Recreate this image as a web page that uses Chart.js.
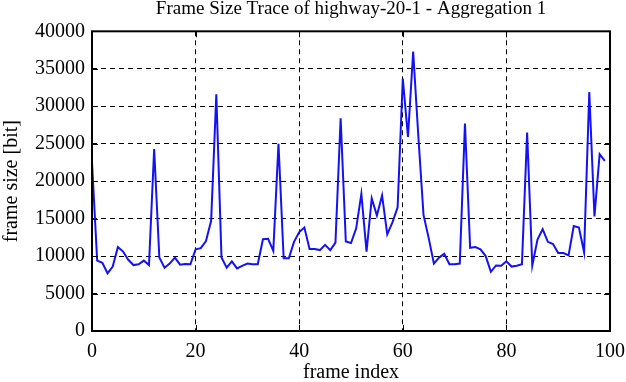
<!DOCTYPE html>
<html>
<head>
<meta charset="utf-8">
<script src="https://cdn.jsdelivr.net/npm/chart.js@4/dist/chart.umd.min.js"></script>
<style>
  html, body { margin: 0; padding: 0; background: #fff; }
  #wrap { width: 626px; height: 382px; }
</style>
</head>
<body>
<div id="wrap"><canvas id="traceChart" width="626" height="382"></canvas></div>
<script>
// frame size of each frame (bit)
var frameSize = [
  22500, 9400, 9100, 7700, 8600, 11200, 10600, 9500, 8800, 8900,
  9400, 8800, 24300, 9800, 8450, 9000, 9800, 8850, 8950, 8900,
  10900, 11050, 12000, 14700, 31600, 9800, 8450, 9300, 8350, 8700,
  9000, 8900, 8900, 12250, 12300, 10700, 25000, 9700, 9700, 11900,
  13200, 13800, 10950, 10950, 10800, 11500, 10800, 11800, 28400, 11950,
  11750, 13700, 18300, 10600, 17700, 15400, 18100, 12900, 14500, 16500,
  33700, 25900, 37300, 26000, 15500, 12400, 9000, 9800, 10300, 8900,
  8900, 9000, 27700, 11100, 11200, 10900, 10000, 7900, 8750, 8700,
  9300, 8600, 8700, 8900, 26500, 8750, 12200, 13600, 11900, 11600,
  10400, 10400, 10100, 14000, 13800, 10500, 31900, 15300, 23600, 22700
];
// frame index = position in the trace
var frameIndex = frameSize.map(function (v, i) { return i; });

var xTicks = [0, 20, 40, 60, 80, 100];
var yTicks = [0, 5000, 10000, 15000, 20000, 25000, 30000, 35000, 40000];

var points = frameIndex.map(function (x, i) { return { x: x, y: frameSize[i] }; });

var serif = "'Liberation Serif', 'DejaVu Serif', serif";

// frame on all four sides + inward tick marks
var framePlugin = {
  id: 'frame',
  afterDraw: function (chart) {
    var a = chart.chartArea, c = chart.ctx;
    var sx = chart.scales.x, sy = chart.scales.y;
    c.save();
    c.strokeStyle = '#000';
    c.lineWidth = 1;
    xTicks.forEach(function (t) {
      var px = Math.round(sx.getPixelForValue(t)) + 0.5;
      c.beginPath();
      c.moveTo(px, a.bottom); c.lineTo(px, a.bottom - 6);
      c.moveTo(px, a.top); c.lineTo(px, a.top + 6);
      c.stroke();
    });
    yTicks.forEach(function (t) {
      var py = Math.round(sy.getPixelForValue(t)) + 0.5;
      c.beginPath();
      c.moveTo(a.left, py); c.lineTo(a.left + 6, py);
      c.moveTo(a.right, py); c.lineTo(a.right - 6, py);
      c.stroke();
    });
    c.lineWidth = 2;
    c.strokeRect(a.left, a.top, a.right - a.left, a.bottom - a.top);
    c.restore();
  }
};

var ctx = document.getElementById('traceChart');
var traceChart = new Chart(ctx, {
  type: 'line',
  data: {
    datasets: [{
      data: points,
      borderColor: 'rgb(18,18,245)',
      borderWidth: 2,
      pointRadius: 0,
      tension: 0,
      fill: false
    }]
  },
  options: {
    responsive: false,
    animation: false,
    events: [],
    layout: { padding: { left: 0, right: 16, top: 0, bottom: 0 } },
    plugins: {
      legend: { display: false },
      tooltip: { enabled: false },
      title: {
        display: true,
        fullSize: false,
        text: 'Frame Size Trace of highway-20-1 - Aggregation 1',
        color: '#000',
        font: { family: serif, size: 19, weight: 'normal' },
        padding: { top: -2, bottom: 10.5 }
      }
    },
    scales: {
      x: {
        type: 'linear',
        min: 0,
        max: 100,
        afterBuildTicks: function (scale) {
          scale.ticks = xTicks.map(function (v) { return { value: v }; });
        },
        afterFit: function (scale) {
          scale.height = 51;
          scale.paddingLeft = 0;
          scale.paddingRight = 0;
        },
        ticks: {
          color: '#000',
          font: { family: serif, size: 20 },
          padding: 9,
          maxRotation: 0
        },
        grid: {
          color: '#000',
          lineWidth: 1,
          drawTicks: false
        },
        border: { display: false, dash: [5, 4] },
        title: {
          display: true,
          text: 'frame index',
          color: '#000',
          font: { family: serif, size: 20 },
          padding: { top: 0, bottom: -3 }
        }
      },
      y: {
        type: 'linear',
        min: 0,
        max: 40000,
        afterBuildTicks: function (scale) {
          scale.ticks = yTicks.map(function (v) { return { value: v }; });
        },
        afterFit: function (scale) {
          scale.width = 92;
          scale.paddingTop = 0;
          scale.paddingBottom = 0;
        },
        ticks: {
          color: '#000',
          font: { family: serif, size: 20 },
          padding: 7,
          callback: function (v) { return String(v); }
        },
        grid: {
          color: '#000',
          lineWidth: 1,
          drawTicks: false
        },
        border: { display: false, dash: [5, 4] },
        title: {
          display: true,
          text: 'frame size [bit]',
          color: '#000',
          font: { family: serif, size: 20 },
          padding: { top: 0, bottom: 0 }
        }
      }
    }
  },
  plugins: [framePlugin]
});
</script>
</body>
</html>
